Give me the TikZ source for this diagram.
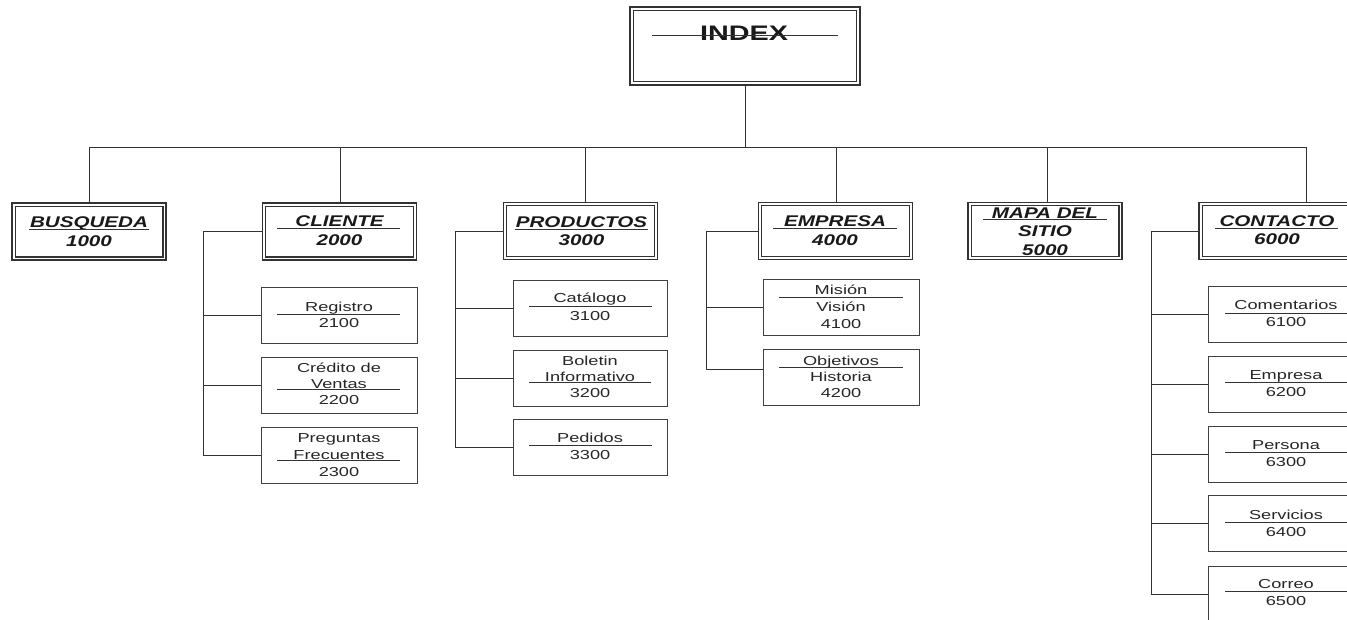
\documentclass[tikz,border=0pt]{standalone}
\usepackage{fontspec}
\setmainfont{Liberation Sans}
\usepackage{graphicx}
\newcommand\Tt[1]{\scalebox{1.33}[1]{#1}}
\newcommand\Ts[1]{\scalebox{1.40}[1]{#1}}
\newcommand\Ti[1]{\scalebox{1.37}[1]{#1}}
\begin{document}
\begin{tikzpicture}[x=1pt,y=-1pt,
  lvl/.style={draw=black!80, line width=1.1pt, minimum width=154pt, minimum height=57pt, inner sep=0pt,
    append after command={\pgfextra{\draw[draw=black!80, line width=1.1pt] ([shift={(3.6pt,-3.6pt)}]\tikzlastnode.north west) rectangle ([shift={(-3.6pt,3.6pt)}]\tikzlastnode.south east);}}},
  topbox/.style={draw=black!80, line width=1.2pt, minimum width=230pt, minimum height=78pt, inner sep=0pt,
    append after command={\pgfextra{\draw[draw=black!80, line width=1.2pt] ([shift={(4pt,-4pt)}]\tikzlastnode.north west) rectangle ([shift={(-4pt,4pt)}]\tikzlastnode.south east);}}},
  sub/.style={draw=black!75, line width=1pt, minimum width=156pt, minimum height=56pt, inner sep=0pt},
  ttl/.style={anchor=base, inner sep=0pt, text=black!90, font=\fontsize{15.5}{18}\selectfont\bfseries\itshape},
  stx/.style={anchor=base, inner sep=0pt, text=black!85, font=\fontsize{13}{15}\selectfont},
  idx/.style={anchor=base, inner sep=0pt, text=black!90, font=\fontsize{21}{25}\selectfont\bfseries},
  conn/.style={draw=black!80, line width=1pt},
  ul/.style={draw=black!80, line width=0.9pt}]
\useasboundingbox (0,0) rectangle (1347,619);
\clip (0,0) rectangle (1347,619);

% top
\node[topbox] (index) at (745,46) {};
\node[idx] (tindex) at (744,40.5) {\Ti{INDEX}};
\draw[ul] (652,35) -- (838,35);

% bus
\coordinate (b1) at (89,147);
\coordinate (b2) at (340,147);
\coordinate (b3) at (585,147);
\coordinate (b4) at (836,147);
\coordinate (b5) at (1047,147);
\coordinate (b6) at (1306,147);
\draw[conn] (index.south) -- (index.south |- b1);
\draw[conn] (b1) -- (b6);

% level 1 boxes
\node[lvl] (busq) at (89,231.5) {};
\node[lvl] (cli) at (339.5,231.5) {};
\node[lvl] (prod) at (580.5,231) {};
\node[lvl] (emp) at (835.5,231) {};
\node[lvl] (mapa) at (1045,231) {};
\node[lvl] (cont) at (1276,231) {};

\draw[conn] (b1) -- (b1 |- busq.north);
\draw[conn] (b2) -- (b2 |- cli.north);
\draw[conn] (b3) -- (b3 |- prod.north);
\draw[conn] (b4) -- (b4 |- emp.north);
\draw[conn] (b5) -- (b5 |- mapa.north);
\draw[conn] (b6) -- (b6 |- cont.north);

% level 1 texts
\node[ttl] (tb1) at (89,227) {\Tt{BUSQUEDA}};
\node[ttl] (tb2) at (89,246.5) {\Tt{1000}};
\draw[ul] (29,229.5) -- (149,229.5);

\node[ttl] (tc1) at (339.5,226.5) {\Tt{CLIENTE}};
\node[ttl] (tc2) at (339.5,245.5) {\Tt{2000}};
\draw[ul] (277,228) -- (400,228);

\node[ttl] (tp1) at (581.5,227) {\Tt{PRODUCTOS}};
\node[ttl] (tp2) at (581.5,245.5) {\Tt{3000}};
\draw[ul] (515,229) -- (648,229);

\node[ttl] (te1) at (835,226.5) {\Tt{EMPRESA}};
\node[ttl] (te2) at (835,245.5) {\Tt{4000}};
\draw[ul] (773,228) -- (897,228);

\node[ttl] (tm1) at (1045,218) {\Tt{MAPA DEL}};
\node[ttl] (tm2) at (1045,236.5) {\Tt{SITIO}};
\node[ttl] (tm3) at (1045,255) {\Tt{5000}};
\draw[ul] (983,219) -- (1107,219);

\node[ttl] (to1) at (1277,226.5) {\Tt{CONTACTO}};
\node[ttl] (to2) at (1277,244.5) {\Tt{6000}};
\draw[ul] (1215,228.5) -- (1338,228.5);

% CLIENTE subs
\node[sub] (c1) at (339,315.5) {};
\node[sub] (c2) at (339,385) {};
\node[sub] (c3) at (339,455) {};
\coordinate (cb) at (203,0);
\draw[conn] (cli.west) -| (cb |- c3.west) -- (c3.west);
\draw[conn] (c1.west) -- (c1.west -| cb);
\draw[conn] (c2.west) -- (c2.west -| cb);
\node[stx] (c1a) at (339,311.5) {\Ts{Registro}};
\node[stx] (c1b) at (339,327.5) {\Ts{2100}};
\draw[ul] (277,314) -- (400,314);
\node[stx] (c2a) at (339,372.5) {\Ts{Crédito de}};
\node[stx] (c2b) at (339,388) {\Ts{Ventas}};
\node[stx] (c2c) at (339,404.5) {\Ts{2200}};
\draw[ul] (277,389.5) -- (400,389.5);
\node[stx] (c3a) at (339,442.5) {\Ts{Preguntas}};
\node[stx] (c3b) at (339,459) {\Ts{Frecuentes}};
\node[stx] (c3c) at (339,476.5) {\Ts{2300}};
\draw[ul] (277,460.5) -- (400,460.5);

% PRODUCTOS subs
\node[sub, minimum width=154pt] (p1) at (590,308) {};
\node[sub, minimum width=154pt] (p2) at (590,378) {};
\node[sub, minimum width=154pt] (p3) at (590,447.5) {};
\coordinate (pb) at (455,0);
\draw[conn] (prod.west) -| (pb |- p3.west) -- (p3.west);
\draw[conn] (p1.west) -- (p1.west -| pb);
\draw[conn] (p2.west) -- (p2.west -| pb);
\node[stx] (p1a) at (590,302.5) {\Ts{Catálogo}};
\node[stx] (p1b) at (590,320.5) {\Ts{3100}};
\draw[ul] (529,306) -- (652,306);
\node[stx] (p2a) at (590,365.5) {\Ts{Boletin}};
\node[stx] (p2b) at (590,381.5) {\Ts{Informativo}};
\node[stx] (p2c) at (590,397.5) {\Ts{3200}};
\draw[ul] (529,382.5) -- (651,382.5);
\node[stx] (p3a) at (590,442.5) {\Ts{Pedidos}};
\node[stx] (p3b) at (590,459.5) {\Ts{3300}};
\draw[ul] (529,445) -- (652,445);

% EMPRESA subs
\node[sub] (e1) at (841,307.5) {};
\node[sub] (e2) at (841,377) {};
\coordinate (eb) at (706,0);
\coordinate (e2s) at ([yshift=8pt]e2.west);
\draw[conn] (emp.west) -| (eb |- e2s) -- (e2s);
\draw[conn] (e1.west) -- (e1.west -| eb);
\node[stx] (e1a) at (841,294.5) {\Ts{Misión}};
\node[stx] (e1b) at (841,311.5) {\Ts{Visión}};
\node[stx] (e1c) at (841,328.5) {\Ts{4100}};
\draw[ul] (779,297.5) -- (903,297.5);
\node[stx] (e2a) at (841,365.5) {\Ts{Objetivos}};
\node[stx] (e2b) at (841,381.5) {\Ts{Historia}};
\node[stx] (e2c) at (841,397.5) {\Ts{4200}};
\draw[ul] (779,367.5) -- (903,367.5);

% CONTACTO subs
\node[sub] (k1) at (1286,314.5) {};
\node[sub] (k2) at (1286,384.5) {};
\node[sub] (k3) at (1286,454) {};
\node[sub] (k4) at (1286,523.5) {};
\node[sub] (k5) at (1286,594) {};
\coordinate (kb) at (1151,0);
\draw[conn] (cont.west) -| (kb |- k5.west) -- (k5.west);
\draw[conn] (k1.west) -- (k1.west -| kb);
\draw[conn] (k2.west) -- (k2.west -| kb);
\draw[conn] (k3.west) -- (k3.west -| kb);
\draw[conn] (k4.west) -- (k4.west -| kb);
\node[stx] (k1a) at (1286,309.5) {\Ts{Comentarios}};
\node[stx] (k1b) at (1286,326.5) {\Ts{6100}};
\draw[ul] (1225,313) -- (1350,313);
\node[stx] (k2a) at (1286,379.5) {\Ts{Empresa}};
\node[stx] (k2b) at (1286,396.5) {\Ts{6200}};
\draw[ul] (1225,382.5) -- (1350,382.5);
\node[stx] (k3a) at (1286,449.5) {\Ts{Persona}};
\node[stx] (k3b) at (1286,466.5) {\Ts{6300}};
\draw[ul] (1225,452.5) -- (1350,452.5);
\node[stx] (k4a) at (1286,519.5) {\Ts{Servicios}};
\node[stx] (k4b) at (1286,536.5) {\Ts{6400}};
\draw[ul] (1225,522) -- (1350,522);
\node[stx] (k5a) at (1286,588.5) {\Ts{Correo}};
\node[stx] (k5b) at (1286,605.5) {\Ts{6500}};
\draw[ul] (1225,591.5) -- (1350,591.5);
\end{tikzpicture}
\end{document}
